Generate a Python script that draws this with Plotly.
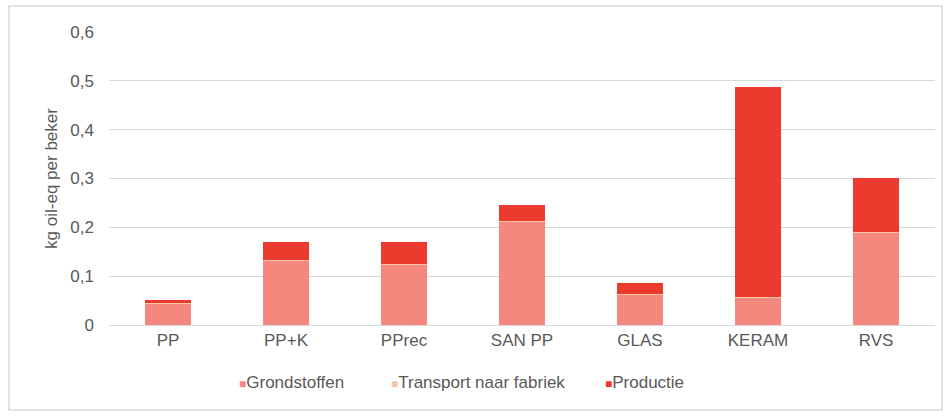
import plotly.graph_objects as go

categories = ["PP", "PP+K", "PPrec", "SAN PP", "GLAS", "KERAM", "RVS"]
grondstoffen = [0.045, 0.133, 0.123, 0.211, 0.062, 0.057, 0.190]
transport = [0.001, 0.001, 0.001, 0.001, 0.001, 0.001, 0.001]
productie = [0.006, 0.037, 0.047, 0.033, 0.024, 0.430, 0.110]
series_names = ["Grondstoffen", "Transport naar fabriek", "Productie"]
series_colors = ["#F4877E", "#F7C6A3", "#EC3A2E"]
yticks = [0, 0.1, 0.2, 0.3, 0.4, 0.5, 0.6]
yticklabels = ["0", "0,1", "0,2", "0,3", "0,4", "0,5", "0,6"]

W, H = 946, 417
L, R, T, B = 109, 11, 32, 92
pw, ph = W - L - R, H - T - B
FS = 17
GREY = "#595959"

def px_x(p):
    return (p - L) / pw

def px_y(p):
    return (H - B - p) / ph

fig = go.Figure()
for name, vals, col in zip(series_names, [grondstoffen, transport, productie], series_colors):
    fig.add_bar(x=categories, y=vals, name=name, marker_color=col, marker_line_width=0)

# legend drawn as text annotations (small square + label), like the reference
legend_x = [237, 389, 603]
annotations = []
for name, col, lx in zip(series_names, series_colors, legend_x):
    annotations.append(dict(
        xref="paper", yref="paper", x=px_x(lx), y=px_y(382), xanchor="left", yanchor="middle",
        showarrow=False,
        text=f'<span style="color:{col};font-size:12px">■</span>{name}',
        font=dict(size=FS, color=GREY)))

fig.update_layout(
    width=W, height=H,
    margin=dict(l=L, r=R, t=T, b=B),
    barmode="stack",
    bargap=0.61,
    paper_bgcolor="white",
    plot_bgcolor="white",
    font=dict(family="Liberation Sans, Arial, sans-serif", size=FS, color=GREY),
    showlegend=False,
    xaxis=dict(showgrid=False, showline=True, linecolor="#D9D9D9", linewidth=1,
               ticks="", tickfont=dict(size=FS, color=GREY)),
    yaxis=dict(range=[0, 0.6], tickvals=yticks, ticktext=yticklabels,
               showgrid=True, gridcolor="#D9D9D9", gridwidth=1, zeroline=False,
               showline=False, ticks="", ticklabelstandoff=14,
               tickfont=dict(size=FS, color=GREY),
               title=dict(text="kg oil-eq per beker", font=dict(size=FS, color=GREY), standoff=8)),
    annotations=annotations,
    shapes=[dict(type="rect", xref="paper", yref="paper",
                 x0=px_x(9), x1=px_x(942), y0=px_y(410), y1=px_y(6),
                 line=dict(color="#D9D9D9", width=1.5), fillcolor="rgba(0,0,0,0)", layer="below")],
)

fig.write_html("out.html")
